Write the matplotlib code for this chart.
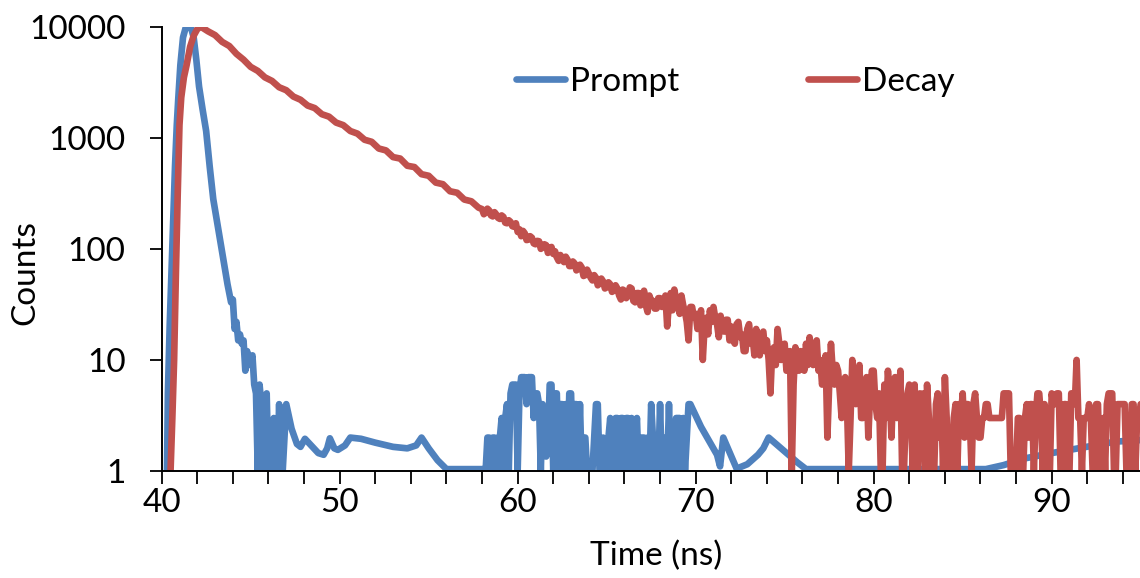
'''
Prompt (IRF) and fluorescence decay histogram, log counts vs time
'''

import numpy as np
import matplotlib
matplotlib.use('Agg')
import matplotlib.pyplot as plt
from   matplotlib.ticker import MultipleLocator, FixedLocator

plt.rcParams['font.family'] = ['Lato', 'DejaVu Sans']

##
##  P R O M P T   (instrument response)
##
## rise and fast fall
prompt_peak_t = [40.30, 40.35, 40.45, 40.56, 40.65, 40.75, 40.85, 40.93, 41.05, 41.2, 41.35, 41.5,
                 41.65, 41.8, 41.95, 42.1, 42.3, 42.5, 42.7, 42.9, 43.1, 43.3, 43.5, 43.7]
prompt_peak_c = [1, 5, 20, 69, 200, 550, 1300, 2200, 4500, 8000, 9800, 10000,
                 9800, 8000, 5000, 2900, 1800, 1150, 550, 280, 180, 115, 75, 48]
## noisy tail, 0.1 ns channels 43.8 - 47.0
prompt_tail_c  = [40, 33, 35, 19, 22, 15, 17, 14, 15, 8,
                  12, 9, 10, 11, 6, 5, 1, 6, 4, 1,
                  3, 5, 1, 2, 1, 3, 1, 1, 4, 1,
                  1, 2, 4]
## slow wiggle 47 - 58
prompt_slow_t = [47.3, 47.6, 47.8, 48.05, 48.4, 48.8, 49.1, 49.3, 49.45, 49.7, 49.9, 50.3,
                 50.6, 51.2, 52.0, 53.0, 53.8, 54.3, 54.6, 55.0, 55.5, 56.0, 58.1]
prompt_slow_c = [2.4, 1.75, 1.65, 1.95, 1.7, 1.45, 1.4, 1.6, 1.97, 1.6, 1.55, 1.7,
                 2.0, 1.95, 1.8, 1.65, 1.6, 1.7, 2.0, 1.6, 1.25, 1.04, 1.04]
## noisy patch, 0.1 ns channels 58.2 - 69.7
prompt_noise_c = [1, 2, 2, 1, 2, 2, 1, 2, 2, 3,
                  1, 3, 4, 1, 5, 6, 6, 6, 1, 5,
                  7, 7, 7, 4, 7, 7, 7, 3, 5, 5,
                  4, 1, 4, 2, 1.35, 1.6, 6, 6, 1, 5,
                  5, 1, 4, 4, 1, 4, 1, 5, 5, 1,
                  4, 4, 1, 4, 1, 2, 2, 1, 1, 1,
                  1, 2, 4, 4, 1, 1, 2, 1, 1, 2,
                  3, 1, 1, 3, 3, 1, 3, 3, 1, 3,
                  3, 1, 3, 1, 2, 3, 1, 2, 2, 2,
                  1, 2, 1, 4, 2, 1, 2, 1, 4, 1,
                  2, 1, 1, 4, 1, 2, 1, 3, 3, 3,
                  1, 3, 1, 2, 4, 4]
## late tail 70 - 95
prompt_late_t = [70.3, 71.2, 71.37, 71.55, 72.3, 72.9, 73.5, 73.8, 74.1, 75.0, 75.7, 76.2,
                 86.3, 87.3, 88.5, 90.0, 91.5, 93.6, 95.0]
prompt_late_c = [2.5, 1.4, 1.1, 2.0, 1.05, 1.15, 1.4, 1.6, 2.0, 1.5, 1.2, 1.04,
                 1.04, 1.13, 1.3, 1.45, 1.6, 1.84, 1.9]

##
##  D E C A Y
##
decay_rise_t = [40.5, 40.6, 40.7, 40.8, 40.9, 41.0, 41.1, 41.25, 41.4, 41.6, 41.8, 42.0, 42.2]
decay_rise_c = [1, 3, 10, 60, 300, 1300, 2300, 3500, 4500, 6600, 8300, 9500, 10000]
## 0.4 ns steps 42.6 - 57.8
decay_main_c = [9100, 8400, 7300, 6700, 5700, 5050, 4350, 4000, 3500, 3250,
                2850, 2680, 2350, 2200, 1950, 1850, 1630, 1550, 1370, 1300,
                1150, 1090, 960, 920, 800, 770, 670, 650, 560, 545,
                470, 455, 395, 382, 330, 320, 278, 268, 235]
## 0.1 ns channels 58.0 - 95.0
decay_noise_c = [228, 205, 212, 230, 222, 200, 196, 214, 204, 190,
                 186, 200, 194, 172, 170, 181, 175, 160, 158, 170,
                 142, 150, 130, 145, 138, 120, 121, 130, 126, 112,
                 110, 118, 117, 100, 103, 110, 108, 92, 96, 104,
                 90, 95, 84, 78, 88, 82, 76, 85, 80, 70,
                 70, 77, 74, 64, 66, 72, 68, 57, 58, 65,
                 60, 55, 52, 58, 55, 47, 49, 54, 51, 44,
                 45, 50, 48, 41, 42, 47, 44, 38, 35, 43,
                 42, 36, 38, 45, 44, 34, 33, 40, 40, 31,
                 36, 42, 31, 27, 38, 34, 34, 29, 29, 36,
                 36, 30, 31, 38, 20, 33, 40, 28, 43, 35,
                 33, 26, 38, 31, 27, 22, 15, 30, 30, 24,
                 26, 19, 22, 28, 10, 20, 24, 17, 28, 22,
                 30, 24, 21, 16, 25, 19, 18, 23, 23, 15,
                 20, 15, 14, 21, 22, 16, 17, 12, 12, 19,
                 21, 14, 16, 11, 19, 15, 11, 17, 18, 12,
                 15, 10, 5, 12, 13, 9, 19, 14, 10, 13,
                 14, 8, 9, 12, 1, 6, 13, 11, 8, 12,
                 11, 8, 14, 9, 16, 12, 9, 13, 15, 8,
                 10, 6, 7, 11, 2, 6, 14, 8, 6, 9,
                 8, 5, 3, 6, 7, 4, 1, 3, 10, 6,
                 4, 7, 9, 3, 3, 6, 7, 2, 5, 8,
                 8, 4, 3, 5, 1, 1, 6, 3, 8, 5,
                 2, 6, 7, 3, 4, 8, 1, 1, 3, 5,
                 6, 3, 1, 6, 1, 1, 5, 2, 5, 1,
                 6, 3, 1, 1, 1, 4, 5, 2, 4, 1,
                 7, 3, 1, 1, 1, 3, 4, 1, 4, 3,
                 5, 2, 4, 4, 3, 1, 4, 5, 3, 2,
                 2, 3, 3, 4, 4, 3, 3, 3, 3, 3,
                 3, 3, 3, 5, 5, 5, 5, 1, 1, 1,
                 1, 3, 3, 1, 1, 3, 4, 2, 4, 4,
                 1, 3, 5, 5, 3, 1, 4, 3, 1, 1,
                 5, 4, 4, 5, 5, 1, 1, 4, 4, 1,
                 1, 5, 5, 4, 10, 3, 3, 1, 3, 3,
                 3, 4, 3, 1, 1, 4, 4, 1, 1, 3,
                 1, 4, 5, 5, 5, 1, 1, 4, 4, 4,
                 4, 4, 1, 1, 1, 4, 4, 1, 3, 3,
                 4]

## channel times for the gridded pieces
prompt_tail_t  = np.round(np.arange(43.8, 47.05, 0.1), 2)
prompt_noise_t = np.round(np.arange(58.2, 69.75, 0.1), 2)
decay_main_t   = np.round(np.arange(42.6, 57.85, 0.4), 2)
decay_noise_t  = np.round(np.arange(58.0, 95.05, 0.1), 2)

prompt_t = np.concatenate([prompt_peak_t, prompt_tail_t, prompt_slow_t, prompt_noise_t, prompt_late_t])
prompt_c = np.concatenate([prompt_peak_c, prompt_tail_c, prompt_slow_c, prompt_noise_c, prompt_late_c])
decay_t  = np.concatenate([decay_rise_t, decay_main_t, decay_noise_t])
decay_c  = np.concatenate([decay_rise_c, decay_main_c, decay_noise_c])

##  Making the plot
fig = plt.figure(figsize=(11.4, 5.78), dpi=100, facecolor='w')
ax  = fig.add_axes([0.1418, 0.1851, 0.8588, 0.7687])

blue = '#4F81BD'
red  = '#C0504D'
lw   = 4.8
fontsize = 24

ax.plot(prompt_t, prompt_c, color=blue, lw=lw, solid_joinstyle='round', solid_capstyle='round', label='Prompt')
ax.plot(decay_t,  decay_c,  color=red,  lw=lw, solid_joinstyle='round', solid_capstyle='round', label='Decay')

ax.set_yscale('log')
ax.axis([40, 95, 1, 10000])

ax.yaxis.set_major_locator(FixedLocator([1, 10, 100, 1000, 10000]))
ax.yaxis.set_minor_locator(FixedLocator([]))
ax.set_yticklabels(['1', '10', '100', '1000', '10000'])
ax.xaxis.set_major_locator(MultipleLocator(10))
ax.xaxis.set_minor_locator(MultipleLocator(2))

for side in ['top', 'right']:
    ax.spines[side].set_visible(False)
for side in ['left', 'bottom']:
    ax.spines[side].set_linewidth(1.4)

ax.tick_params(axis='y', which='major', direction='out', length=9, width=1.3, labelsize=fontsize, pad=17)
ax.tick_params(axis='x', which='both',  direction='out', length=9, width=1.3, labelsize=fontsize, pad=3)

fig.text(25/1140, 1 - 273/578, 'Counts', rotation=90, ha='center', va='center', fontsize=fontsize)
fig.text(656/1140, 1 - 556/578, 'Time (ns)', ha='center', va='center', fontsize=fontsize)

ax.legend(loc='center left', bbox_to_anchor=(516/1140, 1 - 82/578), bbox_transform=fig.transFigure,
          ncol=2, frameon=False, fontsize=fontsize, handlelength=1.47, handletextpad=0.15,
          columnspacing=3.85, borderpad=0, borderaxespad=0)

plt.savefig('out.png', format='png')
